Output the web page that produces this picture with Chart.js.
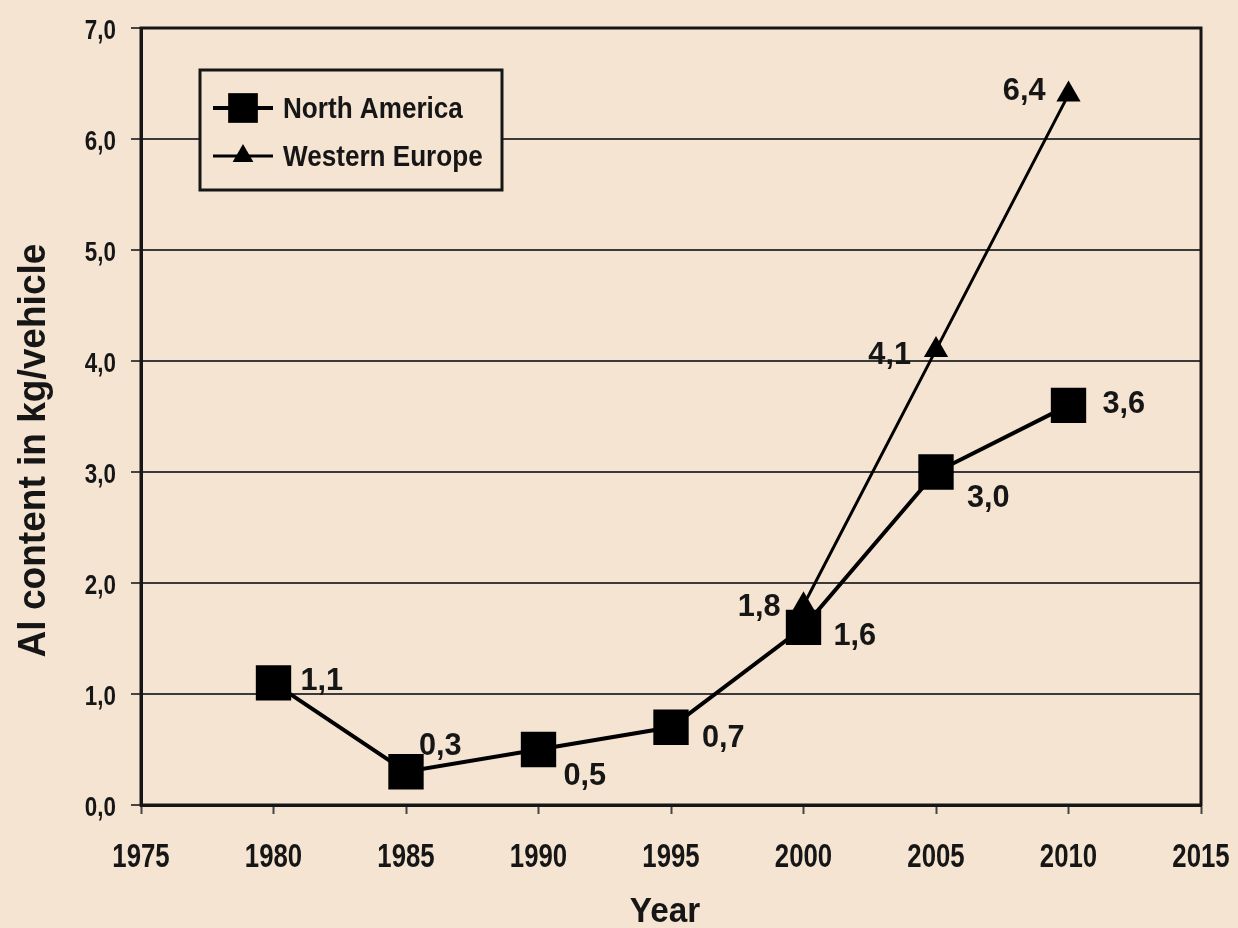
<!DOCTYPE html>
<html>
<head>
<meta charset="utf-8">
<title>Al content per vehicle</title>
<script src="https://cdn.jsdelivr.net/npm/chart.js@4.4.1/dist/chart.umd.min.js"></script>
<style>
  html, body { margin: 0; padding: 0; background: #f4e4d1; }
  #wrap { width: 1238px; height: 928px; position: relative; }
  canvas { display: block; }
</style>
</head>
<body>
<div id="wrap"><canvas id="chart" width="1238" height="928"></canvas></div>
<script>
// ---- data ----
const years = [1980, 1985, 1990, 1995, 2000, 2005, 2010];
const northAmerica = [1.1, 0.3, 0.5, 0.7, 1.6, 3.0, 3.6];
const westernEuropeYears = [2000, 2005, 2010];
const westernEurope = [1.8, 4.1, 6.4];
const seriesNames = ['North America', 'Western Europe'];
const xTickValues = [1975, 1980, 1985, 1990, 1995, 2000, 2005, 2010, 2015];
const yTickValues = [0, 1, 2, 3, 4, 5, 6, 7];
const xTitle = 'Year';
const yTitle = 'Al content in kg/vehicle';

// ---- styling ----
const FONT = '"Liberation Sans", Arial, sans-serif';
const INK = '#161616';
const BG = '#f4e4d1';

// value label offsets per point: [dx, dy, textAlign]
const naLabelPlacement = [
  [27, -5, 'left'], [13, -29, 'left'], [25, 23, 'left'], [31, 8, 'left'],
  [30, 6, 'left'], [31, 23, 'left'], [34, -4, 'left']
];
const weLabelPlacement = [
  [-23, -1, 'right'], [-25, 2, 'right'], [-23, -7, 'right']
];

const fmt = v => v.toFixed(1).replace('.', ',');
const toPoints = (xs, ys) => xs.map((x, i) => ({ x: x, y: ys[i] }));

// bold text squeezed horizontally (narrow face)
function narrowText(ctx, str, x, y, size, sx, align, baseline) {
  ctx.save();
  ctx.translate(x, y);
  ctx.scale(sx, 1);
  ctx.font = 'bold ' + size + 'px ' + FONT;
  ctx.fillStyle = INK;
  ctx.textAlign = align;
  ctx.textBaseline = baseline;
  ctx.fillText(str, 0, 0);
  ctx.restore();
}

// frame around the plotting area
const plotFrame = {
  id: 'plotFrame',
  beforeDatasetsDraw(chart) {
    const a = chart.chartArea, ctx = chart.ctx;
    ctx.save();
    ctx.strokeStyle = INK;
    ctx.lineWidth = 3;
    ctx.strokeRect(a.left, a.top, a.right - a.left, a.bottom - a.top);
    ctx.restore();
  }
};

// tick labels of both axes
const tickLabels = {
  id: 'tickLabels',
  afterDraw(chart) {
    const ctx = chart.ctx, xs = chart.scales.x, ys = chart.scales.y;
    xs.ticks.forEach(t => {
      narrowText(ctx, String(t.value), xs.getPixelForValue(t.value), xs.top + 62, 33, 0.78, 'center', 'alphabetic');
    });
    ys.ticks.forEach(t => {
      narrowText(ctx, fmt(t.value), ys.right - 25, ys.getPixelForValue(t.value) + 11, 28, 0.8, 'right', 'alphabetic');
    });
  }
};

// value labels next to each marker
const valueLabels = {
  id: 'valueLabels',
  afterDatasetsDraw(chart) {
    const ctx = chart.ctx;
    chart.data.datasets.forEach((ds, di) => {
      const meta = chart.getDatasetMeta(di);
      const place = ds.labelPlacement || [];
      meta.data.forEach((el, i) => {
        const p = place[i] || [20, 0, 'left'];
        narrowText(ctx, fmt(ds.data[i].y), el.x + p[0], el.y + p[1] + 12, 32, 0.96, p[2], 'alphabetic');
      });
    });
  }
};

// boxed legend inside the plotting area
const insetLegend = {
  id: 'insetLegend',
  afterDraw(chart, args, opts) {
    const a = chart.chartArea, ctx = chart.ctx;
    const x0 = a.left + opts.offsetX, y0 = a.top + opts.offsetY;
    ctx.save();
    ctx.fillStyle = BG;
    ctx.fillRect(x0, y0, opts.width, opts.height);
    ctx.strokeStyle = INK;
    ctx.lineWidth = 3;
    ctx.strokeRect(x0, y0, opts.width, opts.height);
    chart.data.datasets.forEach((ds, i) => {
      const cy = y0 + opts.firstRow + i * opts.rowGap;
      const lx = x0 + opts.sampleLeft;
      ctx.strokeStyle = ds.borderColor;
      ctx.lineWidth = ds.borderWidth;
      ctx.beginPath();
      ctx.moveTo(lx, cy);
      ctx.lineTo(lx + opts.sampleWidth, cy);
      ctx.stroke();
      ctx.fillStyle = ds.pointBackgroundColor;
      Chart.helpers.drawPoint(ctx, {
        pointStyle: ds.pointStyle,
        radius: ds.legendPointRadius,
        borderWidth: 0,
        rotation: 0
      }, lx + opts.sampleWidth / 2, cy);
      narrowText(ctx, ds.label, x0 + opts.textLeft, cy + 10, 30, 0.87, 'left', 'alphabetic');
    });
    ctx.restore();
  }
};

// axis titles
const axisTitles = {
  id: 'axisTitles',
  afterDraw(chart) {
    const a = chart.chartArea, ctx = chart.ctx;
    narrowText(ctx, xTitle, (a.left + a.right) / 2 - 6, a.bottom + 117, 35, 0.95, 'center', 'alphabetic');
    ctx.save();
    ctx.translate(45, (a.top + a.bottom) / 2 + 34);
    ctx.rotate(-Math.PI / 2);
    narrowText(ctx, yTitle, 0, 0, 39, 0.95, 'center', 'alphabetic');
    ctx.restore();
  }
};

new Chart(document.getElementById('chart'), {
  type: 'line',
  data: {
    datasets: [
      {
        label: seriesNames[0],
        data: toPoints(years, northAmerica),
        borderColor: '#000',
        borderWidth: 4,
        pointStyle: 'rect',
        pointRadius: 25,
        legendPointRadius: 21,
        pointBackgroundColor: '#000',
        pointBorderWidth: 0,
        tension: 0,
        labelPlacement: naLabelPlacement
      },
      {
        label: seriesNames[1],
        data: toPoints(westernEuropeYears, westernEurope),
        borderColor: '#000',
        borderWidth: 3,
        pointStyle: 'triangle',
        pointRadius: 14,
        legendPointRadius: 12,
        pointBackgroundColor: '#000',
        pointBorderWidth: 0,
        tension: 0,
        labelPlacement: weLabelPlacement
      }
    ]
  },
  options: {
    responsive: false,
    animation: false,
    devicePixelRatio: 1,
    events: [],
    layout: { padding: { top: 28, right: 37, left: 0, bottom: 0 } },
    plugins: {
      legend: { display: false },
      tooltip: { enabled: false },
      insetLegend: {
        offsetX: 59, offsetY: 42, width: 302, height: 120,
        firstRow: 38, rowGap: 48, sampleLeft: 13, sampleWidth: 60, textLeft: 83
      }
    },
    scales: {
      x: {
        type: 'linear',
        min: 1975,
        max: 2015,
        afterBuildTicks: s => { s.ticks = xTickValues.map(v => ({ value: v })); },
        afterFit: s => { s.height = 123; },
        grid: { drawOnChartArea: false, drawTicks: true, tickLength: 9, tickColor: '#444', tickWidth: 2 },
        border: { display: true, color: INK, width: 3 },
        ticks: { display: false },
        title: { display: false }
      },
      y: {
        min: 0,
        max: 7,
        afterBuildTicks: s => { s.ticks = yTickValues.map(v => ({ value: v })); },
        afterFit: s => { s.width = 141; },
        grid: { color: '#3a3a3a', lineWidth: 2, drawTicks: true, tickLength: 10, tickColor: '#444', tickWidth: 2 },
        border: { display: true, color: INK, width: 3 },
        ticks: { display: false },
        title: { display: false }
      }
    }
  },
  plugins: [plotFrame, valueLabels, insetLegend, tickLabels, axisTitles]
});
</script>
</body>
</html>
